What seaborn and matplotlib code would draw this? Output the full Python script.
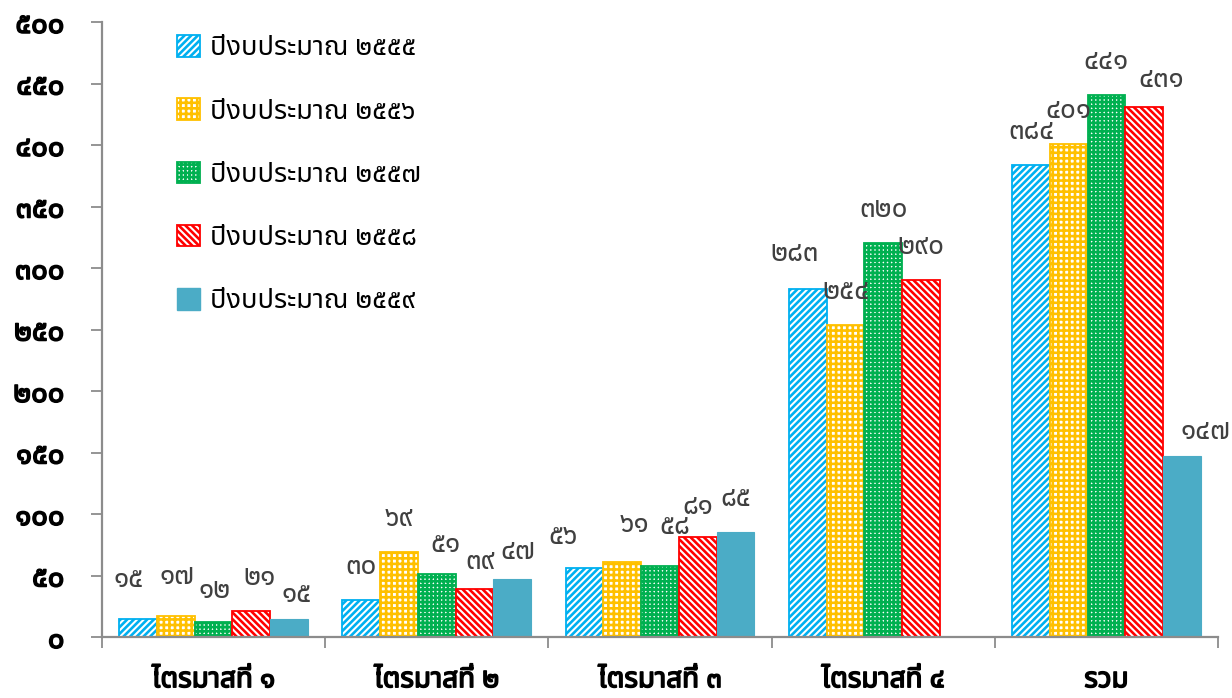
import numpy as np
import pandas as pd
import matplotlib
matplotlib.use("Agg")
import matplotlib.pyplot as plt
import matplotlib.patheffects as pe
import seaborn as sns
from matplotlib import font_manager
from matplotlib.ft2font import FT2Font
from matplotlib.patches import Patch

# ---- data -------------------------------------------------------------
categories = ["ไตรมาสที่ ๑", "ไตรมาสที่ ๒", "ไตรมาสที่ ๓", "ไตรมาสที่ ๔", "รวม"]
years = ["ปีงบประมาณ ๒๕๕๕", "ปีงบประมาณ ๒๕๕๖", "ปีงบประมาณ ๒๕๕๗",
         "ปีงบประมาณ ๒๕๕๘", "ปีงบประมาณ ๒๕๕๙"]
v2555 = [15, 30, 56, 283, 384]
v2556 = [17, 69, 61, 254, 401]
v2557 = [12, 51, 58, 320, 441]
v2558 = [21, 39, 81, 290, 431]
v2559 = [15, 47, 85, np.nan, 147]
yticks = [0, 50, 100, 150, 200, 250, 300, 350, 400, 450, 500]

series_values = [v2555, v2556, v2557, v2558, v2559]

# ---- styling ------------------------------------------------------------
hatch_colors = ["#00B0F0", "#FFC000", "#00B050", "#FF0000", "#4BACC6"]
hatches = ["/////", "+++", "++++", "\\\\\\\\\\", None]

THAI_DIGITS = str.maketrans("0123456789", "๐๑๒๓๔๕๖๗๘๙")


def thai_num(n):
    return str(int(round(n))).translate(THAI_DIGITS)


def find_thai_family():
    preferred = ["Noto Sans Thai", "Noto Sans Thai UI", "Sarabun", "Loma",
                 "Garuda", "Norasi", "Kinnari", "Waree", "Umpush", "Laksaman"]
    paths = {f.fname for f in font_manager.fontManager.ttflist}
    try:
        paths |= set(font_manager.findSystemFonts())
    except Exception:
        pass
    found = {}
    for p in sorted(paths):
        try:
            ft = FT2Font(p)
            cmap = ft.get_charmap()
        except Exception:
            continue
        if 0x0E1B in cmap and 0x0E52 in cmap:
            try:
                font_manager.fontManager.addfont(p)
            except Exception:
                pass
            found.setdefault(ft.family_name, p)
    for name in preferred:
        if name in found:
            return name
    return next(iter(found), None)


sns.set_theme(style="white")
thai_family = find_thai_family()
families = ([thai_family] if thai_family else []) + ["DejaVu Sans"]
plt.rcParams["font.family"] = families
plt.rcParams["hatch.linewidth"] = 1.9

TEXT = "#404040"
AXIS = "#8C8C8C"
BOLD = [pe.withStroke(linewidth=1.1, foreground="black")]

# ---- long-form table -----------------------------------------------------
df = pd.DataFrame({
    "category": np.tile(categories, len(years)),
    "year": np.repeat(years, len(categories)),
    "value": np.concatenate(series_values),
})

fig = plt.figure(figsize=(12.32, 6.98), dpi=100)
ax = fig.add_axes([102 / 1232, 61 / 698, 1116 / 1232, 615 / 698])

sns.barplot(data=df, x="category", y="value", hue="year", order=categories,
            hue_order=years, width=0.845, gap=0, errorbar=None, ax=ax,
            legend=False, saturation=1)

# hatch patterns and outlines per series
for i, cont in enumerate(ax.containers):
    for p in cont.patches:
        if hatches[i]:
            p.set_facecolor("white")
            p.set_edgecolor(hatch_colors[i])
            p.set_hatch(hatches[i])
            p.set_linewidth(1.3)
        else:
            p.set_facecolor(hatch_colors[i])
            p.set_edgecolor(hatch_colors[i])
            p.set_linewidth(0.8)

# value labels (offsets in pixels: dx right, dy up from default spot)
nudge = {
    (0, 0): (-10, 6), (0, 1): (1, 6), (0, 2): (1, -2), (0, 3): (8, 0), (0, 4): (8, -9),
    (1, 2): (9, -4), (1, 3): (6, -6), (1, 4): (6, -6),
    (2, 0): (-21, -2), (2, 1): (12, 4), (2, 2): (15, 6), (2, 3): (0, -3),
    (3, 0): (-13, 2),
    (4, 3): (17, -6), (4, 4): (24, -9),
}
PX = 0.72  # points per pixel at 100 dpi
for i, cont in enumerate(ax.containers):
    for p in cont.patches:
        h = p.get_height()
        if not np.isfinite(h):
            continue
        xc = p.get_x() + p.get_width() / 2
        ci = int(round(xc))
        dx, dy = nudge.get((ci, i), (0, 0))
        ax.annotate(thai_num(h), (xc, h), xytext=(dx * PX, (33 + dy) * PX),
                    textcoords="offset points", ha="center", va="center",
                    fontsize=20, color=TEXT)

# axes
ax.set_xlim(-0.5, len(categories) - 0.5)
ax.set_ylim(0, 500)
ax.set_yticks(yticks)
ax.set_yticklabels([thai_num(t) for t in yticks], fontsize=21,
                   fontweight="bold", color="black")
ax.set_xticks(range(len(categories)))
ax.set_xticklabels(categories, fontsize=20, fontweight="bold", color="black")
for t in ax.get_yticklabels() + ax.get_xticklabels():
    t.set_path_effects(BOLD)
ax.set_xticks(np.arange(-0.5, len(categories), 1.0), minor=True)
ax.tick_params(axis="x", which="major", length=0, pad=21)
ax.tick_params(axis="x", which="minor", length=8, width=1.3, color=AXIS,
               direction="out", bottom=True)
ax.tick_params(axis="y", length=8, width=1.3, color=AXIS, direction="out",
               left=True, pad=19)
ax.set_xlabel("")
ax.set_ylabel("")
ax.grid(False)
for side in ["top", "right"]:
    ax.spines[side].set_visible(False)
for side in ["left", "bottom"]:
    ax.spines[side].set_color(AXIS)
    ax.spines[side].set_linewidth(1.6)

# legend
handles = []
for i in range(len(years)):
    if hatches[i]:
        handles.append(Patch(facecolor="white", edgecolor=hatch_colors[i],
                             hatch=hatches[i], linewidth=1.3))
    else:
        handles.append(Patch(facecolor=hatch_colors[i],
                             edgecolor=hatch_colors[i]))
leg = ax.legend(handles, years, loc="upper left",
                bbox_to_anchor=(0.0672, 0.980), frameon=False, fontsize=19.5,
                labelspacing=1.3, handlelength=0.85, handleheight=0.85,
                handletextpad=0.37, borderpad=0, borderaxespad=0,
                labelcolor="black")

fig.savefig("out.png", dpi=100, facecolor="white")
